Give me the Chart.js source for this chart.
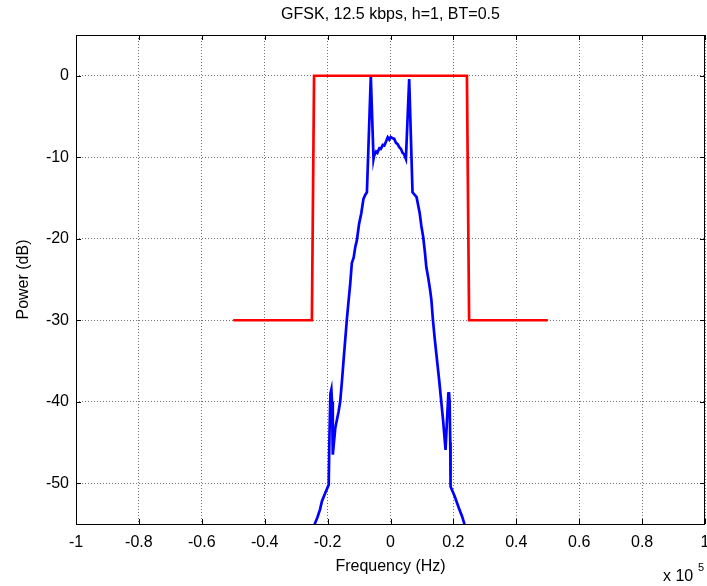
<!DOCTYPE html>
<html><head><meta charset="utf-8">
<script src="https://cdn.jsdelivr.net/npm/chart.js@4/dist/chart.umd.min.js"></script>
<style>html,body{margin:0;padding:0;background:#fff}#wrap{width:707px;height:586px}</style>
</head><body><div id="wrap"><canvas id="c" width="707" height="586"></canvas></div>
<script>
const chartTitle = 'GFSK, 12.5 kbps, h=1, BT=0.5';
const xAxisLabel = 'Frequency (Hz)';
const yAxisLabel = 'Power (dB)';
const xTicks = [-1,-0.8,-0.6,-0.4,-0.2,0,0.2,0.4,0.6,0.8,1];
const xTickLabels = ['-1','-0.8','-0.6','-0.4','-0.2','0','0.2','0.4','0.6','0.8','1'];
const yTicks = [-50,-40,-30,-20,-10,0];
const yTickLabels = ['-50','-40','-30','-20','-10','0'];

// spectral mask (red), frequency in units of 1e5 Hz
const maskFreq = [-0.5,-0.25,-0.243,0.243,0.25,0.5];
const maskPower = [-30,-30,0,0,-30,-30];

// GFSK spectrum (blue)
const specFreq = [-0.247,-0.241,-0.2325,-0.224,-0.218,-0.2075,-0.1965,-0.194,-0.191,-0.188,-0.186,-0.184,-0.183,-0.1755,-0.165,-0.160,-0.154,-0.149,-0.144,-0.139,-0.133,-0.128,-0.123,-0.117,-0.112,-0.107,-0.100,-0.093,-0.086,-0.080,-0.075,-0.0626,-0.054,-0.0521,-0.0458,-0.0417,-0.0354,-0.031,-0.0246,-0.0196,-0.0142,-0.0088,-0.0038,0.0006,0.0069,0.012,0.0174,0.0227,0.0278,0.0332,0.0385,0.0427,0.049,0.0594,0.070,0.083,0.093,0.098,0.104,0.109,0.114,0.120,0.126,0.130,0.135,0.141,0.1546,0.167,0.175,0.180,0.184,0.186,0.188,0.190,0.191,0.204,0.217,0.228,0.235,0.240];
const specPower = [-57,-55,-54.2,-53.2,-52.2,-51.2,-50.2,-44,-39,-38.5,-40,-45,-46.5,-43.2,-41.2,-40.0,-37.3,-34.8,-32.4,-30,-27.5,-25.5,-23.0,-22.3,-21,-20.2,-18.2,-16.9,-15.1,-14.6,-14.3,-0.1,-10.2,-9.8,-9.3,-9.46,-8.9,-8.98,-8.5,-8.57,-8.08,-7.55,-7.83,-7.5,-7.67,-7.75,-8.24,-8.4,-8.77,-8.98,-9.47,-9.6,-10.2,-0.4,-14.3,-14.9,-16.9,-18.4,-19.8,-21.5,-23.5,-24.8,-26.3,-27.5,-30,-32.4,-37.3,-42.2,-45.9,-42,-39,-38.8,-40,-45,-50.4,-51.6,-53.0,-54.1,-55,-57];

const FONT = '"Liberation Sans", Arial, Helvetica, sans-serif';
const FS = 16;

const decor = {
  id: 'decor',
  afterDraw(chart) {
    const {ctx, chartArea: a, scales} = chart;
    ctx.save();
    ctx.strokeStyle = '#000'; ctx.lineWidth = 1;
    ctx.beginPath();
    xTicks.forEach(v => {
      const px = Math.round(scales.x.getPixelForValue(v)) + 0.5;
      ctx.moveTo(px, a.bottom); ctx.lineTo(px, a.bottom - 5);
      ctx.moveTo(px, a.top); ctx.lineTo(px, a.top + 5);
    });
    yTicks.forEach(v => {
      const py = Math.round(scales.y.getPixelForValue(v)) + 0.5;
      ctx.moveTo(a.left, py); ctx.lineTo(a.left + 5, py);
      ctx.moveTo(a.right, py); ctx.lineTo(a.right - 5, py);
    });
    ctx.stroke();
    ctx.strokeRect(Math.round(a.left) + 0.5, Math.round(a.top) + 0.5, Math.round(a.right - a.left) - 1, Math.round(a.bottom - a.top));
    ctx.fillStyle = '#000';
    ctx.font = FS + 'px ' + FONT;
    ctx.textAlign = 'center'; ctx.textBaseline = 'alphabetic';
    ctx.fillText(chartTitle, (a.left + a.right) / 2, 19);
    ctx.fillText(xAxisLabel, (a.left + a.right) / 2, 571);
    ctx.save();
    ctx.translate(28, (a.top + a.bottom) / 2);
    ctx.rotate(-Math.PI / 2);
    ctx.fillText(yAxisLabel, 0, 0);
    ctx.restore();
    ctx.textAlign = 'left';
    ctx.fillText('x 10', 663, 581);
    ctx.font = '11px ' + FONT;
    ctx.fillText('5', 698, 571);
    ctx.restore();
  }
};

new Chart(document.getElementById('c'), {
  type: 'scatter',
  data: {
    datasets: [
      { data: specFreq.map((f, i) => ({x: f, y: specPower[i]})), showLine: true, borderColor: '#0000ff', borderWidth: 2.7, pointRadius: 0, tension: 0, order: 2 },
      { data: maskFreq.map((f, i) => ({x: f, y: maskPower[i]})), showLine: true, borderColor: '#ff0000', borderWidth: 2.7, pointRadius: 0, tension: 0, order: 1 }
    ]
  },
  options: {
    responsive: false,
    animation: false,
    devicePixelRatio: 1,
    layout: { padding: { top: 35, right: 2, left: 0, bottom: 0 } },
    plugins: { legend: { display: false }, tooltip: { enabled: false }, title: { display: false } },
    scales: {
      x: {
        type: 'linear', min: -1, max: 1,
        afterBuildTicks: s => { s.ticks = xTicks.map(v => ({value: v})); },
        afterFit: s => { s.height = 62; s.paddingLeft = 0; s.paddingRight = 0; },
        ticks: { callback: (v, i) => xTickLabels[i], color: '#000', font: { family: FONT, size: FS }, padding: 9, maxRotation: 0, autoSkip: false },
        grid: { color: 'rgba(0,0,0,0.55)', drawTicks: false, lineWidth: 1 },
        border: { display: false, dash: [1, 2] }
      },
      y: {
        type: 'linear', min: -55, max: 5,
        afterBuildTicks: s => { s.ticks = yTicks.map(v => ({value: v})); },
        afterFit: s => { s.width = 76; s.paddingTop = 0; s.paddingBottom = 0; },
        ticks: { callback: (v, i) => yTickLabels[i], color: '#000', font: { family: FONT, size: FS }, padding: 7, autoSkip: false },
        grid: { color: 'rgba(0,0,0,0.55)', drawTicks: false, lineWidth: 1 },
        border: { display: false, dash: [1, 2] }
      }
    }
  },
  plugins: [decor]
});
</script>
</body></html>
